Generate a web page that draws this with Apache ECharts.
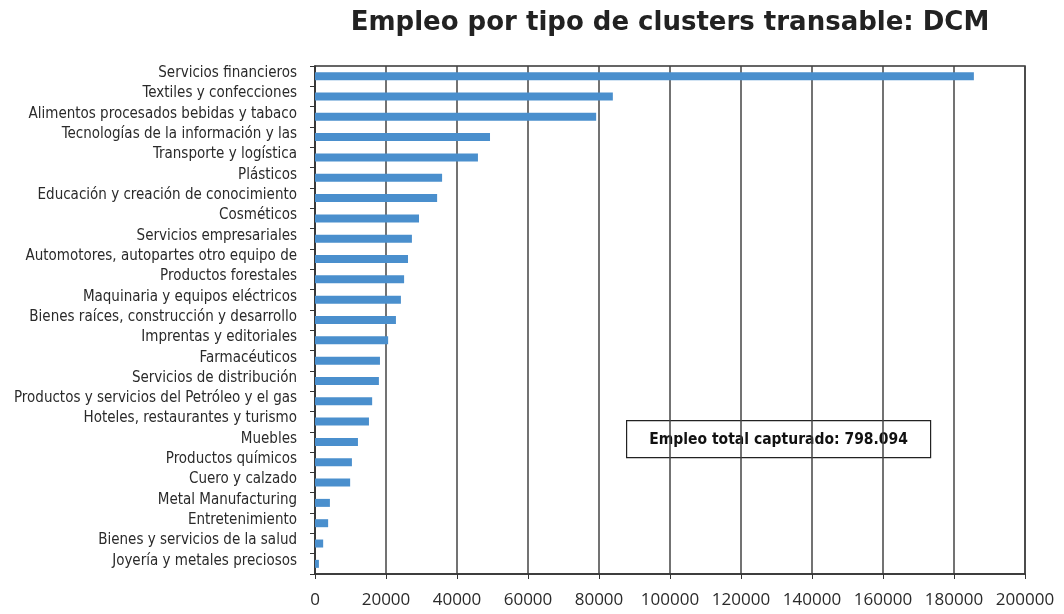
<!DOCTYPE html>
<html>
<head>
<meta charset="utf-8">
<script src="https://cdn.jsdelivr.net/npm/echarts@6/dist/echarts.min.js"></script>
<style>
  html, body { margin: 0; padding: 0; background: #fff; }
  #chart { width: 1064px; height: 614px; }
</style>
</head>
<body>
<div id="chart"></div>
<script>
// categories, top to bottom as in the picture
const clusters = [
  'Servicios financieros',
  'Textiles y confecciones',
  'Alimentos procesados bebidas y tabaco',
  'Tecnologías de la información y las',
  'Transporte y logística',
  'Plásticos',
  'Educación y creación de conocimiento',
  'Cosméticos',
  'Servicios empresariales',
  'Automotores, autopartes otro equipo de',
  'Productos forestales',
  'Maquinaria y equipos eléctricos',
  'Bienes raíces, construcción y desarrollo',
  'Imprentas y editoriales',
  'Farmacéuticos',
  'Servicios de distribución',
  'Productos y servicios del Petróleo y el gas',
  'Hoteles, restaurantes y turismo',
  'Muebles',
  'Productos químicos',
  'Cuero y calzado',
  'Metal Manufacturing',
  'Entretenimiento',
  'Bienes y servicios de la salud',
  'Joyería y metales preciosos'
];
const empleo = [
  185600, 83900, 79200, 49300, 45900, 35800, 34400, 29300, 27300, 26200,
  25100, 24200, 22800, 20600, 18300, 18000, 16100, 15200, 12100, 10400,
  9900, 4200, 3700, 2300, 1100
];
const totalLabel = 'Empleo total capturado: 798.094';

const chart = echarts.init(document.getElementById('chart'));
const labelFont = "'Liberation Sans Narrow', 'DejaVu Sans Condensed', 'Noto Sans', sans-serif";

let option = {
  animation: false,
  title: {
    text: 'Empleo por tipo de clusters transable: DCM',
    left: 665,
    textAlign: 'center',
    top: 5,
    textStyle: { fontFamily: "'DejaVu Sans', sans-serif", fontSize: 26, fontWeight: 'bold', color: '#222' }
  },
  grid: {
    left: 315, right: 39, top: 66, bottom: 40,
    show: true, borderColor: '#333', borderWidth: 1.5
  },
  xAxis: {
    type: 'value',
    min: 0, max: 200000, interval: 20000,
    axisLine: { show: true, lineStyle: { color: '#333', width: 1.5 } },
    axisTick: { show: true, length: 5, lineStyle: { color: '#333' } },
    axisLabel: {
      margin: 18, fontSize: 17, color: '#2a2a2a', fontFamily: "'Open Sans', sans-serif",
      formatter: function (v) { return String(v); }
    },
    splitLine: { show: true, lineStyle: { color: '#444', width: 1.5 } }
  },
  yAxis: {
    type: 'category',
    inverse: true,
    data: clusters,
    axisLine: { show: true, lineStyle: { color: '#333', width: 1.5 } },
    axisTick: { show: true, length: 5, lineStyle: { color: '#333' } },
    axisLabel: {
      margin: 18, interval: 0,
      formatter: function (v) { return '{a|' + v + '}'; },
      rich: {
        a: { fontSize: 15, color: '#2a2a2a', fontFamily: labelFont, padding: [0, 0, 6, 0] }
      }
    }
  },
  series: [
    {
      type: 'bar',
      data: empleo,
      barWidth: 8,
      itemStyle: { color: '#4A8FCD' }
    }
  ],
  graphic: [
    {
      type: 'group',
      left: 626,
      top: 420,
      children: [
        { type: 'rect', shape: { x: 0, y: 0, width: 304, height: 37 },
          style: { fill: '#fff', stroke: '#222', lineWidth: 1.2 } },
        { type: 'text', x: 152, y: 19,
          style: { text: totalLabel, align: 'center', verticalAlign: 'middle',
            font: "bold 15.5px 'Liberation Sans Narrow', 'DejaVu Sans Condensed', sans-serif", fill: '#111' } }
      ]
    }
  ]
};

chart.setOption(option);
</script>
</body>
</html>
